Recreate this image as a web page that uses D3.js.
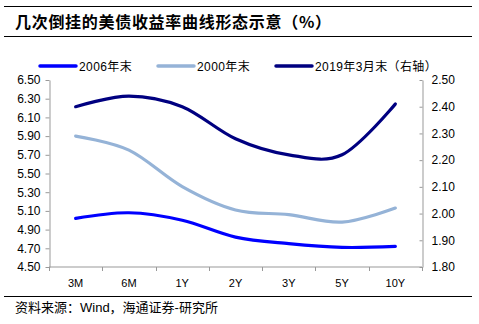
<!DOCTYPE html>
<html>
<head>
<meta charset="utf-8">
<script src="https://cdn.jsdelivr.net/npm/d3@7/dist/d3.min.js"></script>
<style>
  body { margin: 0; background: #fff; }
  text { font-family: "Liberation Sans", Arial, "Noto Sans CJK SC", sans-serif; }
</style>
</head>
<body>
<div id="chart"></div>
<script>
const WIDTH = 479;
const HEIGHT = 324;
const LEFT = 49;
const RIGHT = 422;
const TOP = 80;
const BOTTOM = 267;

const categories = ['3M', '6M', '1Y', '2Y', '3Y', '5Y', '10Y'];
const y2006 = [5.02, 5.08, 5.00, 4.82, 4.75, 4.71, 4.72];
const y2000 = [5.90, 5.75, 5.36, 5.11, 5.06, 4.98, 5.13];
const y2019 = [2.40, 2.44, 2.40, 2.28, 2.22, 2.22, 2.41];
const leftTicks = [4.50, 4.70, 4.90, 5.10, 5.30, 5.50, 5.70, 5.90, 6.10, 6.30, 6.50];
const rightTicks = [1.80, 1.90, 2.00, 2.10, 2.20, 2.30, 2.40, 2.50];

const series = [
  { name: '2006年末', values: y2006, axis: 'left', color: '#0000ff' },
  { name: '2000年末', values: y2000, axis: 'left', color: '#95b3d7' },
  { name: '2019年3月末（右轴）', values: y2019, axis: 'right', color: '#000080' },
];

const svg = d3.select('#chart').append('svg')
  .attr('width', WIDTH)
  .attr('height', HEIGHT);

// header rules and title
svg.append('line').attr('x1', 4).attr('x2', 472).attr('y1', 6.5).attr('y2', 6.5)
  .attr('stroke', '#000').attr('stroke-width', 1);
svg.append('line').attr('x1', 4).attr('x2', 472).attr('y1', 36.5).attr('y2', 36.5)
  .attr('stroke', '#000').attr('stroke-width', 1);
svg.append('text')
  .attr('x', 15).attr('y', 28)
  .attr('font-size', 16).attr('font-weight', 'bold')
  .attr('letter-spacing', 0.7)
  .style('font-family', '"Noto Sans CJK SC", sans-serif')
  .text('几次倒挂的美债收益率曲线形态示意（%）');

const xScale = d3.scaleBand().domain(categories).range([LEFT, RIGHT]);
const yLeft = d3.scaleLinear().domain([4.5, 6.5]).range([BOTTOM, TOP]);
const yRight = d3.scaleLinear().domain([1.8, 2.5]).range([BOTTOM, TOP]);

// axes
const gx = svg.append('g').attr('transform', `translate(0,${BOTTOM})`);
gx.append('line').attr('x1', LEFT).attr('x2', RIGHT).attr('stroke', '#999');
gx.selectAll('.tick').data(d3.range(categories.length + 1)).enter()
  .append('line')
  .attr('x1', (i) => Math.round(LEFT + i * xScale.bandwidth()) + 0.5)
  .attr('x2', (i) => Math.round(LEFT + i * xScale.bandwidth()) + 0.5)
  .attr('y1', 0).attr('y2', 4).attr('stroke', '#999');
gx.selectAll('.xlabel').data(categories).enter()
  .append('text')
  .attr('x', (d) => xScale(d) + xScale.bandwidth() / 2)
  .attr('y', 20)
  .attr('text-anchor', 'middle')
  .attr('font-size', 11)
  .text((d) => d);

const yAxisL = d3.axisLeft(yLeft).tickValues(leftTicks)
  .tickFormat(d3.format('.2f')).tickSize(4).tickSizeOuter(0);
const gl = svg.append('g').attr('transform', `translate(${LEFT + 0.5},0)`).call(yAxisL);
gl.selectAll('text').attr('font-size', 12).attr('fill', '#000').attr('x', -9);

const yAxisR = d3.axisRight(yRight).tickValues(rightTicks)
  .tickFormat(d3.format('.2f')).tickSize(-3).tickSizeOuter(0);
const gr = svg.append('g').attr('transform', `translate(${RIGHT + 0.5},0)`).call(yAxisR);
gr.selectAll('text').attr('font-size', 12).attr('fill', '#000').attr('x', 9);

svg.selectAll('.domain').attr('stroke', '#999');
svg.selectAll('.tick line').attr('stroke', '#999');
svg.selectAll('.tick text').style('font-family', '"Liberation Sans", Arial, sans-serif');

// lines
const line = (yScale) => d3.line()
  .x((d, i) => xScale(categories[i]) + xScale.bandwidth() / 2)
  .y((d) => yScale(d))
  .curve(d3.curveCardinal.tension(0));

svg.append('g').selectAll('path').data(series).enter()
  .append('path')
  .attr('d', (s) => line(s.axis === 'left' ? yLeft : yRight)(s.values))
  .attr('fill', 'none')
  .attr('stroke', (s) => s.color)
  .attr('stroke-width', 3.2)
  .attr('stroke-linecap', 'round');

// legend
const legendX = [40, 158, 276];
const legend = svg.append('g').selectAll('g').data(series).enter()
  .append('g')
  .attr('transform', (s, i) => `translate(${legendX[i]},66)`);
legend.append('line')
  .attr('x1', 0).attr('x2', 36).attr('y1', 0).attr('y2', 0)
  .attr('stroke', (s) => s.color).attr('stroke-width', 3.5)
  .attr('stroke-linecap', 'round');
legend.append('text')
  .attr('x', 39).attr('y', 4.5)
  .attr('font-size', 12)
  .attr('letter-spacing', 0.4)
  .text((s) => s.name);

// source
svg.append('line').attr('x1', 4).attr('x2', 472).attr('y1', 296.5).attr('y2', 296.5)
  .attr('stroke', '#000').attr('stroke-width', 1);
svg.append('text')
  .attr('x', 15).attr('y', 312)
  .attr('font-size', 13)
  .text('资料来源：Wind，海通证券-研究所');
</script>
</body>
</html>
